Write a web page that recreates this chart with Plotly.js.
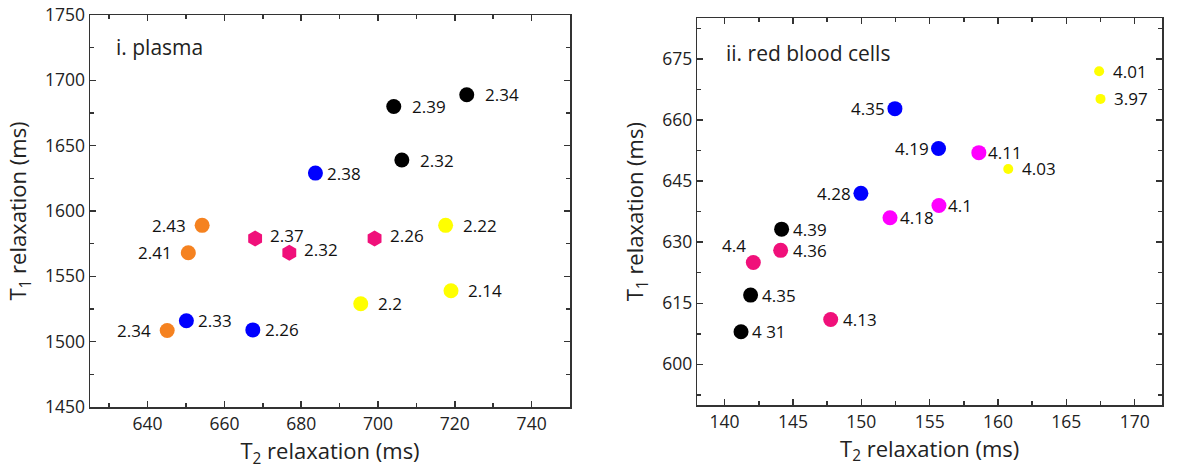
<!DOCTYPE html>
<html>
<head>
<meta charset="utf-8">
<script src="https://cdn.plot.ly/plotly-3.0.1.min.js"></script>
<style>
html,body{margin:0;padding:0;background:#fff;}
#chart{width:1179px;height:475px;}
</style>
</head>
<body>
<div id="chart"></div>
<script>
// ---------- Panel i: plasma ----------
const plasmaBlackT2 = [723.1, 704.1, 706.2];
const plasmaBlackT1 = [1689, 1680, 1639];
const plasmaBlackLbl = ['2.34', '2.39', '2.32'];

const plasmaBlueT2 = [683.7, 650.1, 667.4];
const plasmaBlueT1 = [1629, 1516, 1509];
const plasmaBlueLbl = ['2.38', '2.33', '2.26'];

const plasmaOrangeT2 = [654.2, 650.6, 645.1];
const plasmaOrangeT1 = [1589, 1568, 1508.5];
const plasmaOrangeLbl = ['2.43', '2.41', '2.34'];

const plasmaPinkT2 = [668, 676.9, 699.1];
const plasmaPinkT1 = [1579, 1568, 1579];
const plasmaPinkLbl = ['2.37', '2.32', '2.26'];

const plasmaYellowT2 = [717.6, 719, 695.5];
const plasmaYellowT1 = [1589, 1539, 1529];
const plasmaYellowLbl = ['2.22', '2.14', '2.2'];

// ---------- Panel ii: red blood cells ----------
const rbcYellowT2 = [167.4, 167.5, 160.75];
const rbcYellowT1 = [672, 665.2, 648];
const rbcYellowLbl = ['4.01', '3.97', '4.03'];

const rbcBlueT2 = [152.46, 155.65, 149.97];
const rbcBlueT1 = [662.8, 653, 642];
const rbcBlueLbl = ['4.35', '4.19', '4.28'];

const rbcMagentaT2 = [158.6, 155.68, 152.1];
const rbcMagentaT1 = [652, 639, 636];
const rbcMagentaLbl = ['4.11', '4.1', '4.18'];

const rbcBlackT2 = [144.17, 141.9, 141.2];
const rbcBlackT1 = [633.2, 617, 608];
const rbcBlackLbl = ['4.39', '4.35', '4 31'];

const rbcPinkT2 = [142.1, 144.1, 147.76];
const rbcPinkT1 = [625, 628, 611];
const rbcPinkLbl = ['4.4', '4.36', '4.13'];

const FAM = 'Open Sans, sans-serif';
const labelFont = {family: FAM, size: 17, color: '#111'};

function grp(x, y, color, symbol, size, xa, ya) {
  return {
    type: 'scatter', mode: 'markers',
    x: x, y: y,
    marker: {color: color, symbol: symbol, size: size, line: {width: 0}},
    xaxis: xa, yaxis: ya, cliponaxis: false, hoverinfo: 'skip', showlegend: false
  };
}

// label annotations: place 'r' (right), 'l' (left), 'tl' (above-left)
function labels(x, y, lbl, xa, ya, place, gap, dy) {
  return lbl.map(function (t, i) {
    const p = Array.isArray(place) ? place[i] : place;
    const a = {x: x[i], y: y[i], xref: xa, yref: ya, text: t, showarrow: false,
               font: labelFont, yanchor: 'middle', borderpad: 0, yshift: dy || 0};
    if (p === 'r') { a.xanchor = 'left'; a.xshift = gap; }
    else if (p === 'l') { a.xanchor = 'right'; a.xshift = -gap; }
    else { a.xanchor = 'center'; a.xshift = -19; a.yshift = 17; }
    return a;
  });
}

const C_BLACK = '#000000', C_BLUE = '#0000FF', C_ORANGE = '#F58220',
      C_PINK = '#F0107A', C_YELLOW = '#FFFF00', C_MAGENTA = '#FF00FF';

const data = [
  grp(plasmaBlackT2, plasmaBlackT1, C_BLACK, 'circle', 15, 'x', 'y'),
  grp(plasmaBlueT2, plasmaBlueT1, C_BLUE, 'circle', 15, 'x', 'y'),
  grp(plasmaOrangeT2, plasmaOrangeT1, C_ORANGE, 'circle', 15, 'x', 'y'),
  grp(plasmaPinkT2, plasmaPinkT1, C_PINK, 'hexagon', 16, 'x', 'y'),
  grp(plasmaYellowT2, plasmaYellowT1, C_YELLOW, 'circle', 15, 'x', 'y'),

  grp(rbcYellowT2, rbcYellowT1, C_YELLOW, 'circle', 10, 'x2', 'y2'),
  grp(rbcBlueT2, rbcBlueT1, C_BLUE, 'circle', 15, 'x2', 'y2'),
  grp(rbcMagentaT2, rbcMagentaT1, C_MAGENTA, 'circle', 15, 'x2', 'y2'),
  grp(rbcBlackT2, rbcBlackT1, C_BLACK, 'circle', 15, 'x2', 'y2'),
  grp(rbcPinkT2, rbcPinkT1, C_PINK, 'circle', 15, 'x2', 'y2')
];

const annots = [].concat(
  labels(plasmaBlackT2, plasmaBlackT1, plasmaBlackLbl, 'x', 'y', 'r', 17),
  labels(plasmaBlueT2, plasmaBlueT1, plasmaBlueLbl, 'x', 'y', 'r', 11),
  labels(plasmaOrangeT2, plasmaOrangeT1, plasmaOrangeLbl, 'x', 'y', 'l', 15),
  labels(plasmaPinkT2, plasmaPinkT1, plasmaPinkLbl, 'x', 'y', 'r', 14, 3),
  labels(plasmaYellowT2, plasmaYellowT1, plasmaYellowLbl, 'x', 'y', 'r', 16.5),
  labels(rbcYellowT2, rbcYellowT1, rbcYellowLbl, 'x2', 'y2', 'r', 12.5),
  labels(rbcBlueT2, rbcBlueT1, rbcBlueLbl, 'x2', 'y2', 'l', 8.5),
  labels(rbcMagentaT2, rbcMagentaT1, rbcMagentaLbl, 'x2', 'y2', 'r', 8.5),
  labels(rbcBlackT2, rbcBlackT1, rbcBlackLbl, 'x2', 'y2', 'r', 10),
  labels(rbcPinkT2, rbcPinkT1, rbcPinkLbl, 'x2', 'y2', ['tl', 'r', 'r'], 11)
);

const tickFont = {family: FAM, size: 17.5, color: '#222'};
const titleFont = {family: FAM, size: 22, color: '#222'};
const minorStyle = {ticks: 'inside', ticklen: 4, tickwidth: 1.5, tickcolor: '#333'};

function axis(extra) {
  return Object.assign({
    showline: true, linecolor: '#333', linewidth: 1.5, mirror: 'allticks',
    ticks: 'inside', ticklen: 6, tickwidth: 1.5, tickcolor: '#333',
    showgrid: false, zeroline: false, tickfont: tickFont, fixedrange: true
  }, extra);
}

const layout = {
  width: 1179, height: 475,
  margin: {l: 90, r: 17, t: 15, b: 68},
  paper_bgcolor: '#fff', plot_bgcolor: '#fff',
  font: {family: FAM},
  xaxis: axis({
    domain: [0, 0.4478], range: [625, 750], dtick: 20, tick0: 640,
    minor: Object.assign({dtick: 10, tick0: 630}, minorStyle),
    title: {text: 'T<sub>2</sub> relaxation (ms)', font: titleFont, standoff: 10},
    anchor: 'y'
  }),
  yaxis: axis({
    domain: [0, 1], range: [1450, 1750], dtick: 50,
    minor: Object.assign({dtick: 25}, minorStyle),
    title: {text: 'T<sub>1</sub> relaxation (ms)', font: titleFont, standoff: 12},
    anchor: 'x'
  }),
  xaxis2: axis({
    domain: [0.5665, 1], range: [138, 172], dtick: 5, tick0: 140,
    minor: Object.assign({dtick: 2.5, tick0: 137.5}, minorStyle),
    title: {text: 'T<sub>2</sub> relaxation (ms)', font: titleFont, standoff: 8},
    anchor: 'y2'
  }),
  yaxis2: axis({
    domain: [0.005, 0.9916], range: [590, 685], dtick: 15, tick0: 600,
    minor: Object.assign({dtick: 7.5, tick0: 592.5}, minorStyle),
    title: {text: 'T<sub>1</sub> relaxation (ms)', font: titleFont, standoff: 12},
    anchor: 'x2'
  }),
  annotations: annots.concat([
    {text: 'i. plasma', xref: 'x domain', yref: 'y domain', x: 0.05, y: 0.918,
     xanchor: 'left', yanchor: 'middle', showarrow: false,
     font: {family: FAM, size: 21, color: '#222'}},
    {text: 'ii. red blood cells', xref: 'x2 domain', yref: 'y2 domain', x: 0.057, y: 0.91,
     xanchor: 'left', yanchor: 'middle', showarrow: false,
     font: {family: FAM, size: 21, color: '#222'}}
  ])
};

Plotly.newPlot('chart', data, layout, {staticPlot: true, displayModeBar: false});
</script>
</body>
</html>
